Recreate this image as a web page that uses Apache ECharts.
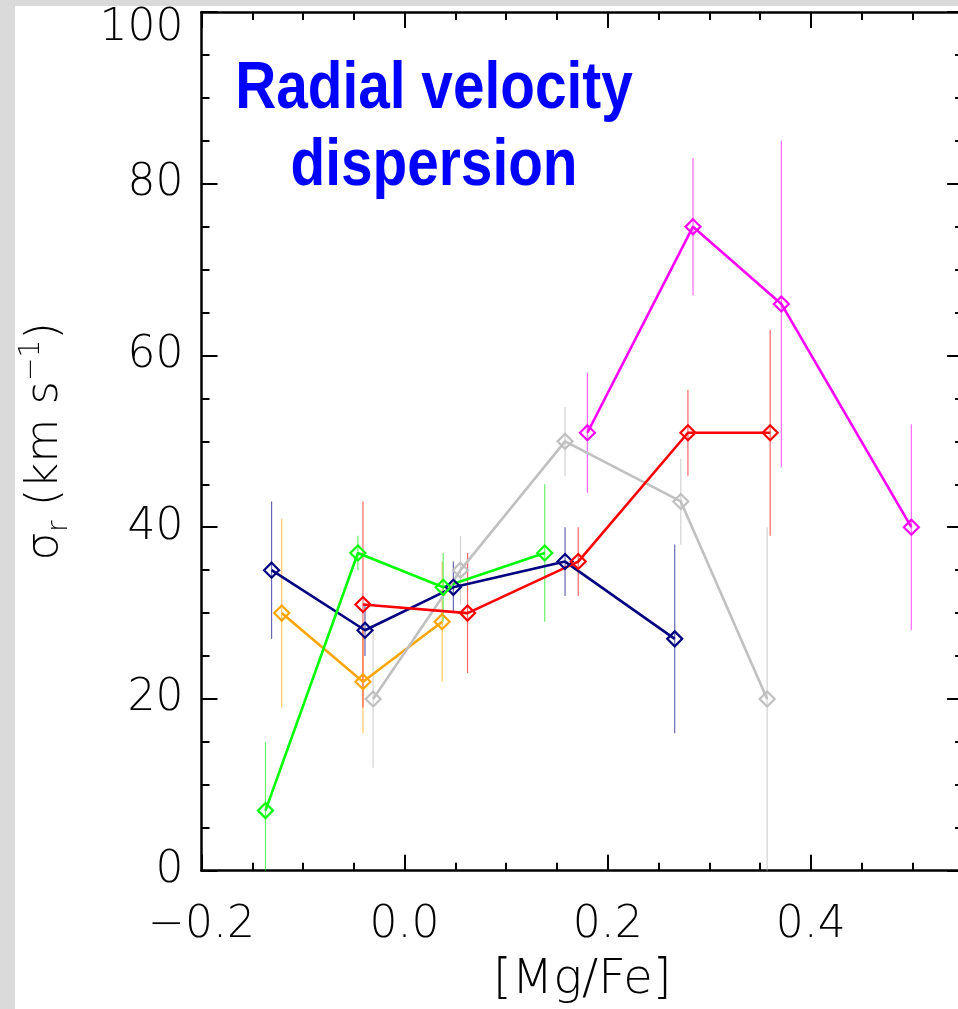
<!DOCTYPE html>
<html><head><meta charset="utf-8">
<script src="https://cdn.jsdelivr.net/npm/echarts@6/dist/echarts.min.js"></script>
<style>html,body{margin:0;padding:0;background:#fff;overflow:hidden}#c{width:958px;height:1009px}</style>
</head><body><div id="c"></div>
<script>
// ---- data ----
const navyX = [-0.131, -0.039, 0.048, 0.158, 0.266];
const navyY = [35, 28, 33, 36, 27];
const navyLo = [27, 25, 30, 32, 16];
const navyHi = [43, 31, 36, 40, 38];

const orangeX = [-0.121, -0.041, 0.037];
const orangeY = [30, 22, 29];
const orangeLo = [19, 16, 22];
const orangeHi = [41, 28, 36];

const greenX = [-0.137, -0.046, 0.038, 0.138];
const greenY = [7, 37, 33, 37];
const greenLo = [0, 35, 29, 29];
const greenHi = [15, 39, 37, 45];

const grayX = [-0.031, 0.055, 0.158, 0.272, 0.357];
const grayY = [20, 35, 50, 43, 20];
const grayLo = [12, 31, 46, 38, 0];
const grayHi = [28, 39, 54, 48, 40];

const redX = [-0.041, 0.062, 0.171, 0.279, 0.360];
const redY = [31, 30, 36, 51, 51];
const redLo = [19, 23, 32, 46, 39];
const redHi = [43, 37, 40, 56, 63];

const magentaX = [0.180, 0.284, 0.371, 0.499];
const magentaY = [51, 75, 66, 40];
const magentaLo = [44, 67, 47, 28];
const magentaHi = [58, 83, 85, 52];

const xTickValues = [-0.2, 0.0, 0.2, 0.4];
const xTickLabels = ['\u22120.2', '0.0', '0.2', '0.4'];
const yTickLabels = ['0', '20', '40', '60', '80', '100'];
const titleText = 'Radial velocity\ndispersion';
const xName = '[Mg/Fe]';

// ---- build ----
const groups = [
  {name:'navy', c:'#000080', e:'rgba(0,0,128,0.6)', x:navyX, y:navyY, lo:navyLo, hi:navyHi},
  {name:'orange', c:'#ffa500', e:'rgba(255,165,0,0.6)', x:orangeX, y:orangeY, lo:orangeLo, hi:orangeHi},
  {name:'green', c:'#00ff00', e:'rgba(0,230,0,0.6)', x:greenX, y:greenY, lo:greenLo, hi:greenHi},
  {name:'gray', c:'#c0c0c0', e:'rgba(180,180,180,0.6)', x:grayX, y:grayY, lo:grayLo, hi:grayHi},
  {name:'red', c:'#ff0000', e:'rgba(255,0,0,0.6)', x:redX, y:redY, lo:redLo, hi:redHi},
  {name:'magenta', c:'#ff00ff', e:'rgba(255,0,255,0.6)', x:magentaX, y:magentaY, lo:magentaLo, hi:magentaHi}
];

const labelFont = {fontFamily:'DejaVu Sans', fontWeight:200, fontSize:44, color:'#000'};

const series = [];
groups.forEach(g => {
  series.push({
    type:'custom', name:g.name+'-err', xAxisIndex:0, yAxisIndex:0, z:1, silent:true,
    data: g.x.map((v,i)=>[v, g.lo[i], g.hi[i]]),
    encode:{x:0, y:[1,2]},
    renderItem:(params, api)=>{
      const p1 = api.coord([api.value(0), api.value(1)]);
      const p2 = api.coord([api.value(0), api.value(2)]);
      return {type:'line', shape:{x1:p1[0], y1:p1[1], x2:p2[0], y2:p2[1]},
              style:{stroke:g.e, lineWidth:1.2}};
    }
  });
});
groups.forEach(g => {
  series.push({
    type:'line', name:g.name, xAxisIndex:0, yAxisIndex:0, z:3,
    data: g.x.map((v,i)=>[v, g.y[i]]),
    symbol:'diamond', symbolSize:15, showAllSymbol:true,
    lineStyle:{color:g.c, width:2.6},
    itemStyle:{color:'rgba(0,0,0,0)', borderColor:g.c, borderWidth:2.2},
    emphasis:{disabled:true}, animation:false
  });
});

const tickCommon = {show:true, inside:true, length:16, lineStyle:{color:'#000', width:2}};
const minorCommon = {show:true, splitNumber:4, length:8, lineStyle:{color:'#000', width:2}};
const lineCommon = {show:true, onZero:false, lineStyle:{color:'#000', width:2.5}};

const option = {
  animation:false,
  backgroundColor:'#ffffff',
  grid:[
    {left:201.5, top:12, width:812.4, height:858.7, containLabel:false, outerBoundsMode:'none'},
    {left:201.5, top:12, width:761.6, height:858.7, containLabel:false, outerBoundsMode:'none'}
  ],
  xAxis:[
    {type:'value', gridIndex:0, position:'bottom', min:-0.2, max:0.6, interval:0.2,
     axisLine:lineCommon, axisTick:tickCommon, minorTick:minorCommon, splitLine:{show:false},
     axisLabel:Object.assign({margin:33, formatter:(v)=>{
        const i = xTickValues.findIndex(t=>Math.abs(t-v)<1e-6); return i>=0 ? xTickLabels[i] : '';}}, labelFont)},
    {type:'value', gridIndex:0, position:'top', min:-0.2, max:0.6, interval:0.2,
     axisLine:lineCommon, axisTick:tickCommon, minorTick:minorCommon, splitLine:{show:false},
     axisLabel:{show:false}},
    {type:'value', gridIndex:1, position:'bottom', min:-0.2, max:0.55,
     axisLine:{show:false}, axisTick:{show:false}, axisLabel:{show:false}, splitLine:{show:false},
     name:xName, nameLocation:'middle', nameGap:86,
     nameTextStyle:Object.assign({}, labelFont, {fontSize:48})}
  ],
  yAxis:[
    {type:'value', gridIndex:0, position:'left', min:0, max:100, interval:20,
     axisLine:lineCommon, axisTick:tickCommon, minorTick:minorCommon, splitLine:{show:false},
     axisLabel:Object.assign({margin:18, formatter:(v)=>{
        const i=Math.round(v/20); const s = yTickLabels[i]||'';
        return i === yTickLabels.length-1 ? '{t|'+s+'}' : s;},
        rich:{t:Object.assign({}, labelFont, {padding:[34,0,0,0]})}}, labelFont),
     name:'{s|σ}{sub|r}{s| (km s}{sup|−1}{s|)}', nameLocation:'middle', nameGap:128, nameRotate:90,
     nameTextStyle:{rich:{
        s:Object.assign({}, labelFont, {fontSize:45}),
        sub:Object.assign({}, labelFont, {fontSize:28, verticalAlign:'bottom', lineHeight:56}),
        sup:Object.assign({}, labelFont, {fontSize:28, verticalAlign:'top', lineHeight:56})
     }}},
    {type:'value', gridIndex:1, position:'right', min:0, max:100, interval:20,
     axisLine:lineCommon, axisTick:tickCommon, minorTick:minorCommon, splitLine:{show:false},
     axisLabel:{show:false}}
  ],
  graphic:[
    {type:'rect', left:0, top:0, shape:{width:15, height:1009}, style:{fill:'#dadada'}, z:-10, silent:true},
    {type:'rect', left:0, top:0, shape:{width:958, height:6}, style:{fill:'#dadada'}, z:-10, silent:true},
    {type:'text', x:434, y:51, scaleX:0.86, z:10, silent:true,
     style:{text:titleText, textAlign:'center', textVerticalAlign:'top',
            font:'bold 66px "Liberation Sans", sans-serif',
            lineHeight:77, fill:'#0000ff'}}
  ],
  series:series
};

const chart = echarts.init(document.getElementById('c'), null, {renderer:'canvas'});
chart.setOption(option);
</script>
</body></html>
